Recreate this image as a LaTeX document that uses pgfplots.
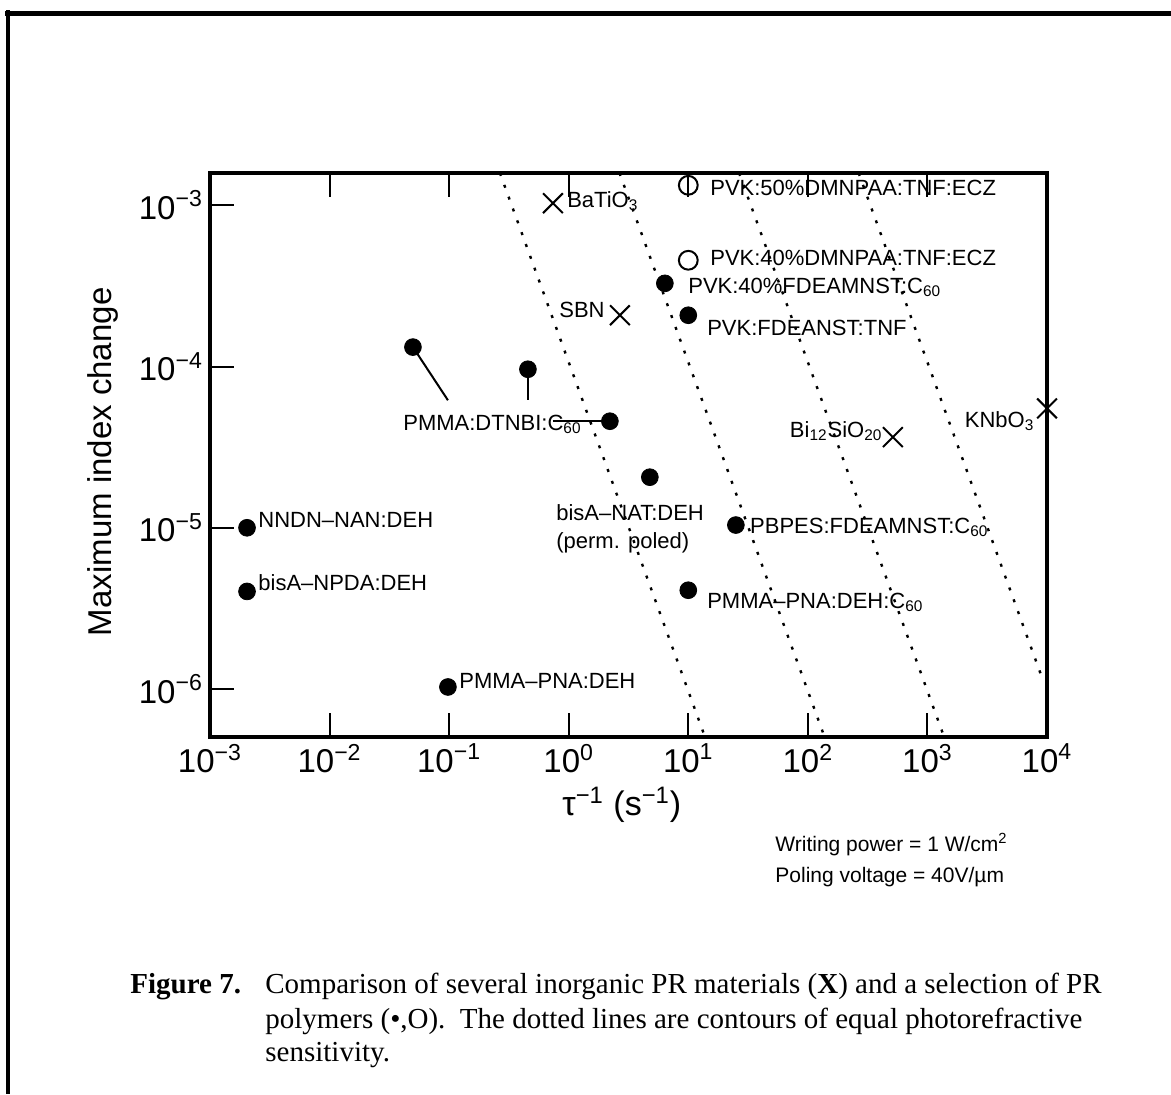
\documentclass[border=0pt]{standalone}
\usepackage{fontspec}
\setmainfont{Liberation Sans}
\newfontfamily\capfont{Liberation Serif}
\usepackage{pgfplots}
\pgfplotsset{compat=1.18}

\tikzset{lbl/.style={inner sep=0pt, font=\fontsize{11}{13}\selectfont}}

\begin{document}
\begin{tikzpicture}
\useasboundingbox (0,0) rectangle (585.5pt,-547pt);
\begin{axis}[
  at={(105pt,-368.5pt)}, anchor=south west,
  scale only axis, width=418.5pt, height=282pt,
  xmode=log, ymode=log,
  xmin=1e-3, xmax=1e4, ymin=5.04e-7, ymax=1.585e-3,
  xtick={1e-3,1e-2,1e-1,1,1e1,1e2,1e3,1e4},
  ytick={1e-6,1e-5,1e-4,1e-3},
  xticklabels={10\textsuperscript{−3},10\textsuperscript{−2},10\textsuperscript{−1},10\textsuperscript{0},
               10\textsuperscript{1},10\textsuperscript{2},10\textsuperscript{3},10\textsuperscript{4}},
  yticklabels={10\textsuperscript{−6},10\textsuperscript{−5},10\textsuperscript{−4},10\textsuperscript{−3}},
  xminorticks=false, yminorticks=false,
  xtick pos=both, ytick pos=left,
  tick align=inside, major tick length=12pt,
  every tick/.style={black, line width=1pt},
  axis line style={line width=2pt},
  ticklabel style={font=\fontsize{16.5}{19}\selectfont},
  xlabel={τ\textsuperscript{−1} (s\textsuperscript{−1})},
  xlabel style={at={(axis description cs:0.492,-0.12)}, anchor=center, font=\fontsize{17}{20}\selectfont},
  ylabel={Maximum index change},
  ylabel style={at={(axis description cs:-0.128,0.488)}, anchor=center, font=\fontsize{16.5}{20}\selectfont},
  clip=false,
]
% contours of equal sensitivity
\addplot[black, line width=1.2pt, dash pattern=on 1.5pt off 4.8pt] coordinates {(0.266,1.585e-3) (13.8,5.04e-7)};
\addplot[black, line width=1.2pt, dash pattern=on 1.5pt off 4.8pt] coordinates {(2.66,1.585e-3) (138,5.04e-7)};
\addplot[black, line width=1.2pt, dash pattern=on 1.5pt off 4.8pt] coordinates {(26.6,1.585e-3) (1380,5.04e-7)};
\addplot[black, line width=1.2pt, dash pattern=on 1.5pt off 4.8pt] coordinates {(266,1.585e-3) (9230,1.14e-6)};

% leader lines
\addplot[black, line width=1pt] coordinates {(0.0498,1.32e-4) (0.0977,6.18e-5)};
\addplot[black, line width=1pt] coordinates {(0.456,9.62e-5) (0.456,6.18e-5)};
\addplot[black, line width=1pt] coordinates {(0.738,4.58e-5) (2.21,4.58e-5)};

% polymers (filled)
\addplot[only marks, mark=*, mark size=4.2pt, black] coordinates {
  (2.04e-3,1.0e-5) (2.04e-3,4.03e-6) (0.0977,1.03e-6)
  (0.0498,1.32e-4) (0.456,9.62e-5) (2.21,4.58e-5) (4.77,2.06e-5)
  (25.0,1.04e-5) (10,4.10e-6) (6.37,3.28e-4) (10,2.08e-4)
};
% polymers (open)
\addplot[only marks, mark=o, mark size=4.7pt, black, mark options={line width=1pt}] coordinates {
  (10,4.56e-4) (10,1.33e-3)
};
% inorganic crystals
\addplot[only marks, mark=x, mark size=7pt, black, mark options={line width=1pt}] coordinates {
  (0.738,1.03e-3) (2.68,2.08e-4) (514,3.65e-5) (1e4,5.5e-5)
};

\node[lbl, anchor=base west] at (axis cs:0.966,9.72e-4) {BaTiO\textsubscript{3}};
\node[lbl, anchor=base west] at (axis cs:15.17,1.153e-3) {PVK:50\%DMNPAA:TNF:ECZ};
\node[lbl, anchor=base west] at (axis cs:15.17,4.25e-4) {PVK:40\%DMNPAA:TNF:ECZ};
\node[lbl, anchor=base west] at (axis cs:9.93,2.85e-4) {PVK:40\%FDEAMNST:C\textsubscript{60}};
\node[lbl, anchor=base west] at (axis cs:14.31,1.563e-4) {PVK:FDEANST:TNF};
\node[lbl, anchor=base east] at (axis cs:2.01,2.02e-4) {SBN};
\node[lbl, anchor=base east] at (axis cs:424,3.65e-5) {Bi\textsubscript{12}SiO\textsubscript{20}};
\node[lbl, anchor=base east] at (axis cs:7907,4.21e-5) {KNbO\textsubscript{3}};
\node[lbl, anchor=base west] at (axis cs:0.0411,4.03e-5) {PMMA:DTNBI:C\textsubscript{60}};
\node[lbl, anchor=base west] at (axis cs:2.52e-3,1.01e-5) {NNDN–NAN:DEH};
\node[lbl, anchor=base west] at (axis cs:2.52e-3,4.10e-6) {bisA–NPDA:DEH};
\node[lbl, anchor=base west] at (axis cs:0.1208,1.014e-6) {PMMA–PNA:DEH};
\node[lbl, anchor=base west] at (axis cs:0.782,1.114e-5) {bisA–NAT:DEH};
\node[lbl, anchor=base west] at (axis cs:0.782,7.46e-6) {(perm. poled)};
\node[lbl, anchor=base west] at (axis cs:32.7,9.27e-6) {PBPES:FDEAMNST:C\textsubscript{60}};
\node[lbl, anchor=base west] at (axis cs:14.31,3.18e-6) {PMMA–PNA:DEH:C\textsubscript{60}};
\end{axis}

\begin{scope}[x=0.5pt, y=-0.5pt]
  % page frame from the scan
  \draw[line width=2.5pt] (5,13) -- (1171,13);
  \draw[line width=2pt] (8,10) -- (8,1094);
  \node[lbl, anchor=base west, font=\fontsize{10.5}{12}\selectfont] at (775,851) {Writing power = 1 W/cm\textsuperscript{2}};
  \node[lbl, anchor=base west, font=\fontsize{10.5}{12}\selectfont] at (775,882) {Poling voltage = 40V/µm};
  \node[anchor=base west, inner sep=0pt, font=\capfont\fontsize{14.5}{17}\selectfont] at (130,993) {\textbf{Figure 7.}};
  \node[anchor=base west, inner sep=0pt, font=\capfont\fontsize{14.5}{17}\selectfont] at (265,993)
    {Comparison of several inorganic PR materials (\textbf{X}) and a selection of PR};
  \node[anchor=base west, inner sep=0pt, font=\capfont\fontsize{14.5}{17}\selectfont] at (265,1028)
    {polymers (•,O).\ \ The dotted lines are contours of equal photorefractive};
  \node[anchor=base west, inner sep=0pt, font=\capfont\fontsize{14.5}{17}\selectfont] at (265,1061)
    {sensitivity.};
\end{scope}
\end{tikzpicture}
\end{document}
